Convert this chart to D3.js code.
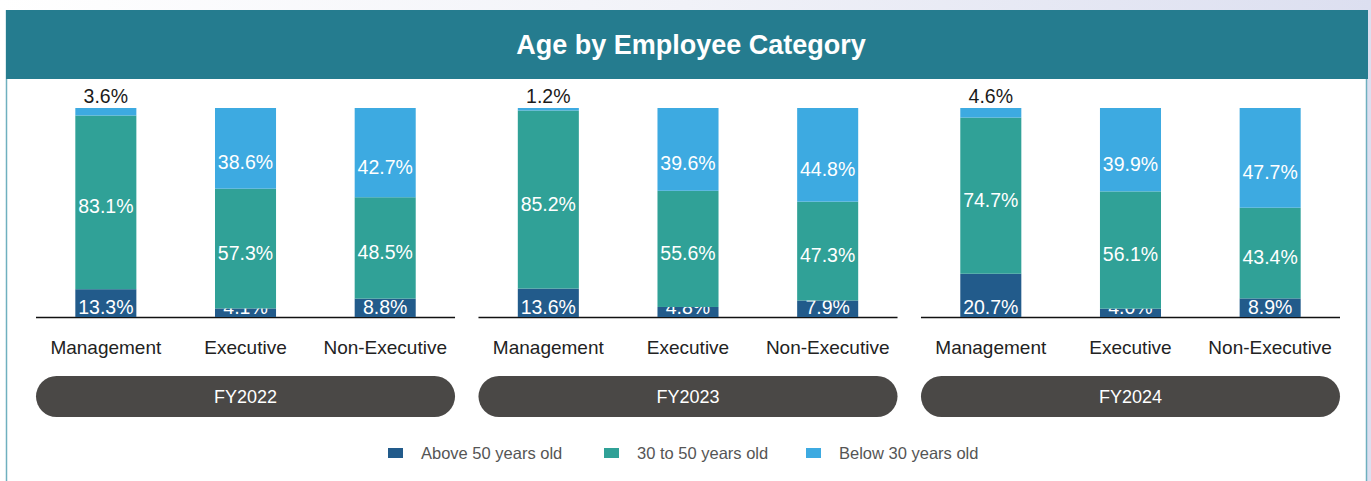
<!DOCTYPE html>
<html>
<head>
<meta charset="utf-8">
<script src="https://cdn.jsdelivr.net/npm/d3@7"></script>
<style>
  html, body { margin: 0; padding: 0; background: #fff; }
  svg { display: block; font-family: "Liberation Sans", Arial, Helvetica, sans-serif; }
</style>
</head>
<body>
<svg id="chart" width="1371" height="481"></svg>
<script>
// data
var years = ['FY2022', 'FY2023', 'FY2024'];
var categories = ['Management', 'Executive', 'Non-Executive'];
var seriesNames = ['Above 50 years old', '30 to 50 years old', 'Below 30 years old'];
var seriesColors = ['#225b8b', '#30a197', '#3daae1'];

// one row per year, values in category order
var above50 = [[13.3, 4.1, 8.8], [13.6, 4.8, 7.9], [20.7, 4.0, 8.9]];
var mid30to50 = [[83.1, 57.3, 48.5], [85.2, 55.6, 47.3], [74.7, 56.1, 43.4]];
var below30 = [[3.6, 38.6, 42.7], [1.2, 39.6, 44.8], [4.6, 39.9, 47.7]];

var svg = d3.select('#chart');
var W = 1371, H = 481;

/*
** background + card
 */
var defs = svg.append('defs');
var grad = defs.append('linearGradient').attr('id', 'topbg')
    .attr('x1', '0').attr('x2', '1').attr('y1', '0').attr('y2', '0');
grad.append('stop').attr('offset', '0').attr('stop-color', '#ffffff');
grad.append('stop').attr('offset', '0.5').attr('stop-color', '#f1f2f8');
grad.append('stop').attr('offset', '1').attr('stop-color', '#dcdff0');

svg.append('rect').attr('x', 0).attr('y', 0).attr('width', W).attr('height', H).attr('fill', 'url(#topbg)');
svg.append('rect').attr('x', 6).attr('y', 10).attr('width', 1360).attr('height', H).attr('fill', '#fff');
svg.append('line').attr('x1', 6.5).attr('x2', 6.5).attr('y1', 10).attr('y2', H)
    .attr('stroke', '#6fb0bf').attr('stroke-width', 1.5);
svg.append('line').attr('x1', 1366.5).attr('x2', 1366.5).attr('y1', 10).attr('y2', H)
    .attr('stroke', '#6fb0bf').attr('stroke-width', 1.5);

// header band
svg.append('rect').attr('x', 6).attr('y', 10).attr('width', 1362).attr('height', 69).attr('fill', '#257c8f');
svg.append('text').attr('x', 691).attr('y', 45).attr('text-anchor', 'middle')
    .attr('dominant-baseline', 'central')
    .attr('fill', '#fff').attr('font-size', 27).attr('font-weight', 'bold')
    .text('Age by Employee Category');

/*
** scales
 */
var groupX = d3.scaleBand().domain(years).range([36, 1340]).paddingInner(0.053).paddingOuter(0);
var catX = d3.scaleBand().domain(categories).range([0, groupX.bandwidth()]).paddingInner(0.563).paddingOuter(0.2815);
var y = d3.scaleLinear().domain([0, 100]).range([317, 108]);
var color = d3.scaleOrdinal().domain(seriesNames).range(seriesColors);

// build stacked rows
var rows = [];
years.forEach(function (yr, yi) {
    categories.forEach(function (cat, ci) {
        rows.push({
            year: yr, cat: cat,
            'Above 50 years old': above50[yi][ci],
            '30 to 50 years old': mid30to50[yi][ci],
            'Below 30 years old': below30[yi][ci]
        });
    });
});
var stacked = d3.stack().keys(seriesNames)(rows);

var groups = svg.append('g').selectAll('g.year')
    .data(years).enter().append('g')
    .attr('class', 'year')
    .attr('transform', function (d) { return 'translate(' + groupX(d) + ',0)'; });

/*
** bars
 */
stacked.forEach(function (layer, li) {
    layer.forEach(function (seg) {
        var d = seg.data;
        var gx = groupX(d.year) + catX(d.cat);
        var val = seg[1] - seg[0];
        svg.append('rect')
            .attr('x', gx)
            .attr('y', y(seg[1]))
            .attr('width', catX.bandwidth())
            .attr('height', y(seg[0]) - y(seg[1]))
            .attr('fill', color(layer.key));

        var ty, fill = '#fff';
        if (li === 0) {
            ty = y(0) - 10;
        } else if (li === 1) {
            ty = (y(seg[0]) + y(seg[1])) / 2 + 4;
        } else if (val < 10) {
            ty = y(seg[1]) - 12;
            fill = '#1a1a1a';
        } else {
            ty = (y(seg[0]) + y(seg[1])) / 2 + 14;
        }
        svg.append('text')
            .attr('x', gx + catX.bandwidth() / 2)
            .attr('y', ty)
            .attr('text-anchor', 'middle')
            .attr('dominant-baseline', 'central')
            .attr('fill', fill)
            .attr('font-size', 19.5)
            .text(val.toFixed(1) + '%');
    });
});

/*
** baseline, category labels, year pills
 */
groups.append('line')
    .attr('x1', 0).attr('x2', groupX.bandwidth())
    .attr('y1', y(0) + 0.5).attr('y2', y(0) + 0.5)
    .attr('stroke', '#111').attr('stroke-width', 1.5);

groups.selectAll('text.cat')
    .data(categories).enter().append('text')
    .attr('class', 'cat')
    .attr('x', function (d) { return catX(d) + catX.bandwidth() / 2; })
    .attr('y', 347)
    .attr('text-anchor', 'middle')
    .attr('dominant-baseline', 'central')
    .attr('fill', '#222')
    .attr('font-size', 19)
    .text(function (d) { return d; });

groups.append('rect')
    .attr('x', 0).attr('y', 376)
    .attr('width', groupX.bandwidth()).attr('height', 41)
    .attr('rx', 20.5)
    .attr('fill', '#4a4846');

groups.append('text')
    .attr('x', groupX.bandwidth() / 2).attr('y', 397)
    .attr('text-anchor', 'middle')
    .attr('dominant-baseline', 'central')
    .attr('fill', '#fff')
    .attr('font-size', 18)
    .text(function (d) { return d; });

/*
** legend
 */
var legendX = [388, 604, 806];
var legend = svg.append('g').selectAll('g.leg')
    .data(seriesNames).enter().append('g')
    .attr('transform', function (d, i) { return 'translate(' + legendX[i] + ',453)'; });
legend.append('rect').attr('x', 0).attr('y', -5).attr('width', 15).attr('height', 10)
    .attr('fill', function (d) { return color(d); });
legend.append('text').attr('x', 33).attr('y', 0)
    .attr('dominant-baseline', 'central')
    .attr('fill', '#555').attr('font-size', 16.5)
    .text(function (d) { return d; });
</script>
</body>
</html>
